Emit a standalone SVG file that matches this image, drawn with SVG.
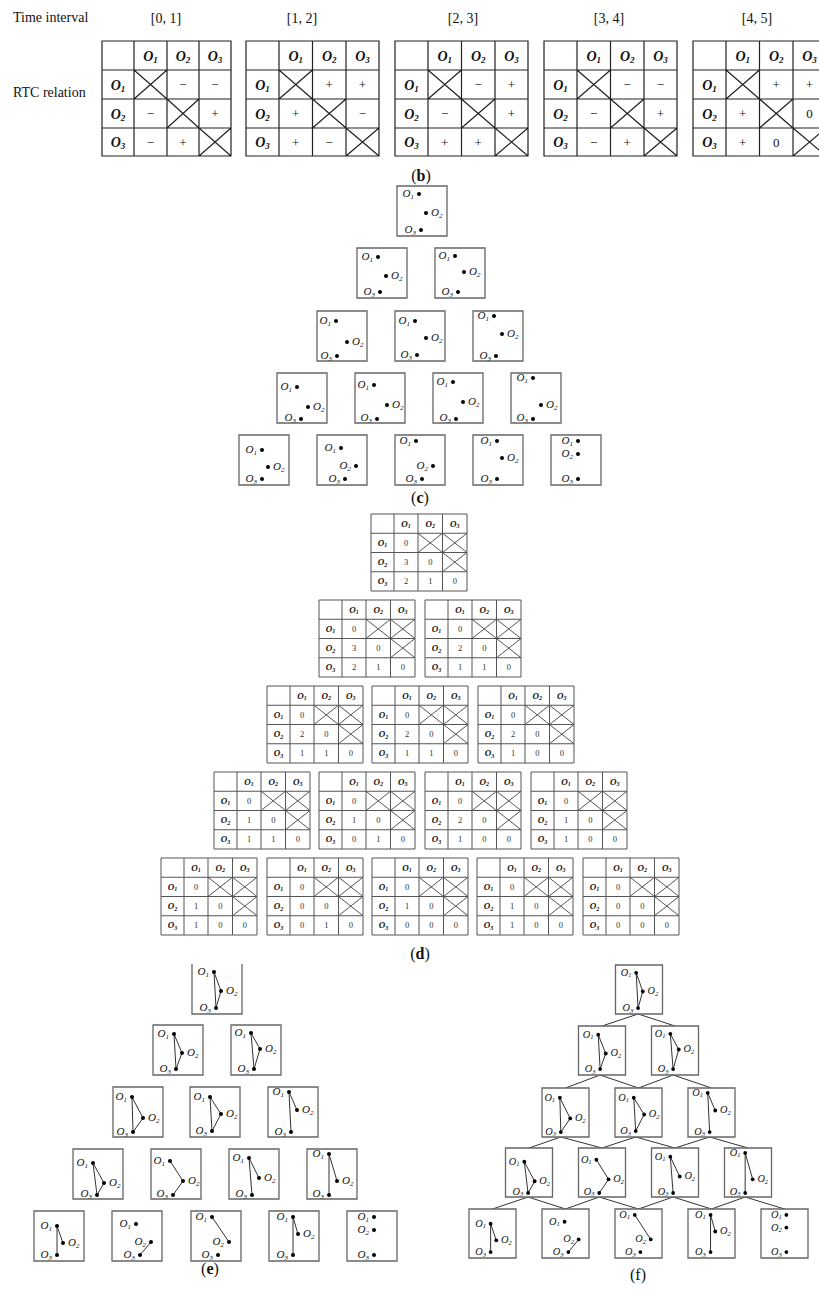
<svg xmlns="http://www.w3.org/2000/svg" xmlns:xlink="http://www.w3.org/1999/xlink" width="819" height="1289" viewBox="0 0 819 1289">
<style>
text{font-family:"Liberation Serif","Times New Roman",serif;fill:#111}
.t{font-size:14px}
.bh{font-size:14px;font-weight:bold;font-style:italic;text-anchor:middle}
.bs{font-size:9px}
.sg{font-size:13px;text-anchor:middle}
.tg{fill:none;stroke:#222;stroke-width:1.2}
.dgs{fill:none;stroke:#555;stroke-width:1}
.dh{font-size:9px;font-weight:bold;font-style:italic;text-anchor:middle}
.ds{font-size:6px}
.dn{font-size:8.5px;text-anchor:middle;fill:#333}
.bx{fill:#fff;stroke:#666;stroke-width:1.3;vector-effect:non-scaling-stroke}
.ln{fill:none;stroke:#333;stroke-width:1;vector-effect:non-scaling-stroke}
.ol{font-size:11px;font-style:italic}
.e{text-anchor:end}
.s{font-size:7px}
.cap{font-size:16px;text-anchor:middle}
.cn{fill:none;stroke:#333;stroke-width:1}
</style>
<defs>
<path id="tg1" class="tg" d="M0,0H129V115H0Z M32,0V115 M65,0V115 M97,0V115 M0,29H129 M0,58H129 M0,87H129 M32,29L65,58 M32,58L65,29 M65,58L97,87 M65,87L97,58 M97,87L129,115 M97,115L129,87"/>
<path id="tgs" class="tg" d="M0,0H133V115H0Z M33,0V115 M66.5,0V115 M100,0V115 M0,29H133 M0,58H133 M0,87H133 M33,29L66.5,58 M33,58L66.5,29 M66.5,58L100,87 M66.5,87L100,58 M100,87L133,115 M100,115L133,87"/>
<path id="dgr" class="dgs" d="M0,0H96V77H0Z M23,0V77 M47,0V77 M71.5,0V77 M0,19.25H96 M0,38.5H96 M0,57.75H96 M47,19.25L71.5,38.5 M47,38.5L71.5,19.25 M71.5,19.25L96,38.5 M71.5,38.5L96,19.25 M71.5,38.5L96,57.75 M71.5,57.75L96,38.5"/>
</defs>
<rect width="819" height="1289" fill="#fff"/>

<!-- (b) -->
<g id="b-labels">
<text class="t" x="13" y="22">Time interval</text>
<text class="t" x="13" y="97">RTC relation</text>
<text class="t" x="166" y="23" text-anchor="middle">[0, 1]</text>
<text class="t" x="302" y="23" text-anchor="middle">[1, 2]</text>
<text class="t" x="463" y="23" text-anchor="middle">[2, 3]</text>
<text class="t" x="609" y="23" text-anchor="middle">[3, 4]</text>
<text class="t" x="757" y="23" text-anchor="middle">[4, 5]</text>
</g>
<g id="tb1" transform="translate(102,41)"><use href="#tg1"/>
<text class="bh" x="48.5" y="19.5">O<tspan class="bs" dy="2">1</tspan></text><text class="bh" x="81" y="19.5">O<tspan class="bs" dy="2">2</tspan></text><text class="bh" x="113" y="19.5">O<tspan class="bs" dy="2">3</tspan></text>
<text class="bh" x="16" y="48.5">O<tspan class="bs" dy="2">1</tspan></text><text class="bh" x="16" y="77.5">O<tspan class="bs" dy="2">2</tspan></text><text class="bh" x="16" y="106">O<tspan class="bs" dy="2">3</tspan></text>
<text class="sg" x="81" y="48">−</text><text class="sg" x="113" y="48">−</text>
<text class="sg" x="48.5" y="77">−</text><text class="sg" x="113" y="77">+</text>
<text class="sg" x="48.5" y="105.5">−</text><text class="sg" x="81" y="105.5">+</text>
</g>
<g id="tb2" transform="translate(246,41)"><use href="#tgs"/>
<text class="bh" x="49.75" y="19.5">O<tspan class="bs" dy="2">1</tspan></text><text class="bh" x="83.25" y="19.5">O<tspan class="bs" dy="2">2</tspan></text><text class="bh" x="116.5" y="19.5">O<tspan class="bs" dy="2">3</tspan></text>
<text class="bh" x="16.5" y="48.5">O<tspan class="bs" dy="2">1</tspan></text><text class="bh" x="16.5" y="77.5">O<tspan class="bs" dy="2">2</tspan></text><text class="bh" x="16.5" y="106">O<tspan class="bs" dy="2">3</tspan></text>
<text class="sg" x="83.25" y="48">+</text><text class="sg" x="116.5" y="48">+</text>
<text class="sg" x="49.75" y="77">+</text><text class="sg" x="116.5" y="77">−</text>
<text class="sg" x="49.75" y="105.5">+</text><text class="sg" x="83.25" y="105.5">−</text>
</g>
<g id="tb3" transform="translate(395,41)"><use href="#tgs"/>
<text class="bh" x="49.75" y="19.5">O<tspan class="bs" dy="2">1</tspan></text><text class="bh" x="83.25" y="19.5">O<tspan class="bs" dy="2">2</tspan></text><text class="bh" x="116.5" y="19.5">O<tspan class="bs" dy="2">3</tspan></text>
<text class="bh" x="16.5" y="48.5">O<tspan class="bs" dy="2">1</tspan></text><text class="bh" x="16.5" y="77.5">O<tspan class="bs" dy="2">2</tspan></text><text class="bh" x="16.5" y="106">O<tspan class="bs" dy="2">3</tspan></text>
<text class="sg" x="83.25" y="48">−</text><text class="sg" x="116.5" y="48">+</text>
<text class="sg" x="49.75" y="77">−</text><text class="sg" x="116.5" y="77">+</text>
<text class="sg" x="49.75" y="105.5">+</text><text class="sg" x="83.25" y="105.5">+</text>
</g>
<g id="tb4" transform="translate(544,41)"><use href="#tgs"/>
<text class="bh" x="49.75" y="19.5">O<tspan class="bs" dy="2">1</tspan></text><text class="bh" x="83.25" y="19.5">O<tspan class="bs" dy="2">2</tspan></text><text class="bh" x="116.5" y="19.5">O<tspan class="bs" dy="2">3</tspan></text>
<text class="bh" x="16.5" y="48.5">O<tspan class="bs" dy="2">1</tspan></text><text class="bh" x="16.5" y="77.5">O<tspan class="bs" dy="2">2</tspan></text><text class="bh" x="16.5" y="106">O<tspan class="bs" dy="2">3</tspan></text>
<text class="sg" x="83.25" y="48">−</text><text class="sg" x="116.5" y="48">−</text>
<text class="sg" x="49.75" y="77">−</text><text class="sg" x="116.5" y="77">+</text>
<text class="sg" x="49.75" y="105.5">−</text><text class="sg" x="83.25" y="105.5">+</text>
</g>
<g id="tb5" transform="translate(693,41)"><use href="#tgs"/>
<text class="bh" x="49.75" y="19.5">O<tspan class="bs" dy="2">1</tspan></text><text class="bh" x="83.25" y="19.5">O<tspan class="bs" dy="2">2</tspan></text><text class="bh" x="116.5" y="19.5">O<tspan class="bs" dy="2">3</tspan></text>
<text class="bh" x="16.5" y="48.5">O<tspan class="bs" dy="2">1</tspan></text><text class="bh" x="16.5" y="77.5">O<tspan class="bs" dy="2">2</tspan></text><text class="bh" x="16.5" y="106">O<tspan class="bs" dy="2">3</tspan></text>
<text class="sg" x="83.25" y="48">+</text><text class="sg" x="116.5" y="48">+</text>
<text class="sg" x="49.75" y="77">+</text><text class="sg" x="116.5" y="77" fill="#444">0</text>
<text class="sg" x="49.75" y="105.5">+</text><text class="sg" x="83.25" y="105.5" fill="#444">0</text>
</g>
<text class="cap" x="421" y="181">(<tspan font-weight="bold">b</tspan>)</text>

<!-- (c) -->
<g id="c1" transform="translate(397,186)"><rect class="bx" width="50" height="50"/><circle cx="22" cy="8" r="2"/><circle cx="29" cy="27" r="2"/><circle cx="24" cy="44" r="2"/><text class="ol e" x="17" y="11">O<tspan class="s" dy="1.5">1</tspan></text><text class="ol" x="34" y="30">O<tspan class="s" dy="1.5">2</tspan></text><text class="ol e" x="19" y="47">O<tspan class="s" dy="1.5">3</tspan></text></g>
<g id="c2" transform="translate(357,248)"><rect class="bx" width="50" height="50"/><circle cx="21" cy="9" r="2"/><circle cx="29" cy="28" r="2"/><circle cx="23" cy="44" r="2"/><text class="ol e" x="16" y="12">O<tspan class="s" dy="1.5">1</tspan></text><text class="ol" x="34" y="31">O<tspan class="s" dy="1.5">2</tspan></text><text class="ol e" x="18" y="47">O<tspan class="s" dy="1.5">3</tspan></text></g>
<g id="c3" transform="translate(435,248)"><rect class="bx" width="50" height="50"/><circle cx="20" cy="8" r="2"/><circle cx="29" cy="24" r="2"/><circle cx="23" cy="44" r="2"/><text class="ol e" x="15" y="11">O<tspan class="s" dy="1.5">1</tspan></text><text class="ol" x="34" y="27">O<tspan class="s" dy="1.5">2</tspan></text><text class="ol e" x="18" y="47">O<tspan class="s" dy="1.5">3</tspan></text></g>
<g id="c4" transform="translate(317,311)"><rect class="bx" width="50" height="50"/><circle cx="19" cy="10" r="2"/><circle cx="30" cy="31" r="2"/><circle cx="20" cy="45" r="2"/><text class="ol e" x="14" y="13">O<tspan class="s" dy="1.5">1</tspan></text><text class="ol" x="35" y="34">O<tspan class="s" dy="1.5">2</tspan></text><text class="ol e" x="15" y="48">O<tspan class="s" dy="1.5">3</tspan></text></g>
<g id="c5" transform="translate(395,311)"><rect class="bx" width="50" height="50"/><circle cx="20" cy="10" r="2"/><circle cx="31" cy="27" r="2"/><circle cx="22" cy="44" r="2"/><text class="ol e" x="15" y="13">O<tspan class="s" dy="1.5">1</tspan></text><text class="ol" x="36" y="30">O<tspan class="s" dy="1.5">2</tspan></text><text class="ol e" x="17" y="47">O<tspan class="s" dy="1.5">3</tspan></text></g>
<g id="c6" transform="translate(473,311)"><rect class="bx" width="50" height="50"/><circle cx="21" cy="5" r="2"/><circle cx="29" cy="23" r="2"/><circle cx="23" cy="45" r="2"/><text class="ol e" x="16" y="8">O<tspan class="s" dy="1.5">1</tspan></text><text class="ol" x="34" y="26">O<tspan class="s" dy="1.5">2</tspan></text><text class="ol e" x="18" y="48">O<tspan class="s" dy="1.5">3</tspan></text></g>
<g id="c7" transform="translate(277,373)"><rect class="bx" width="50" height="50"/><circle cx="20" cy="14" r="2"/><circle cx="31" cy="34" r="2"/><circle cx="24" cy="46" r="2"/><text class="ol e" x="15" y="17">O<tspan class="s" dy="1.5">1</tspan></text><text class="ol" x="36" y="37">O<tspan class="s" dy="1.5">2</tspan></text><text class="ol e" x="19" y="48">O<tspan class="s" dy="1.5">3</tspan></text></g>
<g id="c8" transform="translate(355,373)"><rect class="bx" width="50" height="50"/><circle cx="19" cy="12" r="2"/><circle cx="32" cy="32" r="2"/><circle cx="22" cy="46" r="2"/><text class="ol e" x="14" y="15">O<tspan class="s" dy="1.5">1</tspan></text><text class="ol" x="37" y="35">O<tspan class="s" dy="1.5">2</tspan></text><text class="ol e" x="17" y="48">O<tspan class="s" dy="1.5">3</tspan></text></g>
<g id="c9" transform="translate(433,373)"><rect class="bx" width="50" height="50"/><circle cx="20" cy="9" r="2"/><circle cx="30" cy="29" r="2"/><circle cx="23" cy="46" r="2"/><text class="ol e" x="15" y="12">O<tspan class="s" dy="1.5">1</tspan></text><text class="ol" x="35" y="32">O<tspan class="s" dy="1.5">2</tspan></text><text class="ol e" x="18" y="48">O<tspan class="s" dy="1.5">3</tspan></text></g>
<g id="c10" transform="translate(511,373)"><rect class="bx" width="50" height="50"/><circle cx="22" cy="5" r="2"/><circle cx="30" cy="32" r="2"/><circle cx="22" cy="46" r="2"/><text class="ol e" x="17" y="8">O<tspan class="s" dy="1.5">1</tspan></text><text class="ol" x="35" y="35">O<tspan class="s" dy="1.5">2</tspan></text><text class="ol e" x="17" y="48">O<tspan class="s" dy="1.5">3</tspan></text></g>
<g id="c11" transform="translate(239,435)"><rect class="bx" width="50" height="50"/><circle cx="23" cy="15" r="2"/><circle cx="29" cy="32" r="2"/><circle cx="23" cy="44" r="2"/><text class="ol e" x="18" y="18">O<tspan class="s" dy="1.5">1</tspan></text><text class="ol" x="34" y="35">O<tspan class="s" dy="1.5">2</tspan></text><text class="ol e" x="18" y="47">O<tspan class="s" dy="1.5">3</tspan></text></g>
<g id="c12" transform="translate(317,435)"><rect class="bx" width="50" height="50"/><circle cx="24" cy="13" r="2"/><circle cx="39" cy="31" r="2"/><circle cx="28" cy="44" r="2"/><text class="ol e" x="19" y="16">O<tspan class="s" dy="1.5">1</tspan></text><text class="ol e" x="34" y="34">O<tspan class="s" dy="1.5">2</tspan></text><text class="ol e" x="23" y="47">O<tspan class="s" dy="1.5">3</tspan></text></g>
<g id="c13" transform="translate(395,435)"><rect class="bx" width="50" height="50"/><circle cx="21" cy="6" r="2"/><circle cx="38" cy="31" r="2"/><circle cx="27" cy="44" r="2"/><text class="ol e" x="16" y="9">O<tspan class="s" dy="1.5">1</tspan></text><text class="ol e" x="33" y="34">O<tspan class="s" dy="1.5">2</tspan></text><text class="ol e" x="22" y="47">O<tspan class="s" dy="1.5">3</tspan></text></g>
<g id="c14" transform="translate(473,435)"><rect class="bx" width="50" height="50"/><circle cx="24" cy="6" r="2"/><circle cx="29" cy="23" r="2"/><circle cx="24" cy="44" r="2"/><text class="ol e" x="19" y="9">O<tspan class="s" dy="1.5">1</tspan></text><text class="ol" x="34" y="26">O<tspan class="s" dy="1.5">2</tspan></text><text class="ol e" x="19" y="47">O<tspan class="s" dy="1.5">3</tspan></text></g>
<g id="c15" transform="translate(551,435)"><rect class="bx" width="50" height="50"/><circle cx="27" cy="6" r="2"/><circle cx="27" cy="19" r="2"/><circle cx="27" cy="44" r="2"/><text class="ol e" x="22" y="9">O<tspan class="s" dy="1.5">1</tspan></text><text class="ol e" x="22" y="22">O<tspan class="s" dy="1.5">2</tspan></text><text class="ol e" x="22" y="47">O<tspan class="s" dy="1.5">3</tspan></text></g>
<text class="cap" x="420" y="503">(<tspan font-weight="bold">c</tspan>)</text>

<!-- (d) -->
<g id="d1" transform="translate(371,514)"><use href="#dgr"/>
<text class="dh" x="35" y="12.6">O<tspan class="ds" dy="1.5">1</tspan></text><text class="dh" x="59.25" y="12.6">O<tspan class="ds" dy="1.5">2</tspan></text><text class="dh" x="83.75" y="12.6">O<tspan class="ds" dy="1.5">3</tspan></text>
<text class="dh" x="11.5" y="31.9">O<tspan class="ds" dy="1.5">1</tspan></text><text class="dh" x="11.5" y="51.1">O<tspan class="ds" dy="1.5">2</tspan></text><text class="dh" x="11.5" y="70.4">O<tspan class="ds" dy="1.5">3</tspan></text>
<text class="dn" x="35" y="31.9">0</text><text class="dn" x="35" y="51.1">3</text><text class="dn" x="59.25" y="51.1">0</text><text class="dn" x="35" y="70.4">2</text><text class="dn" x="59.25" y="70.4">1</text><text class="dn" x="83.75" y="70.4">0</text></g>
<g id="d2" transform="translate(319,600)"><use href="#dgr"/>
<text class="dh" x="35" y="12.6">O<tspan class="ds" dy="1.5">1</tspan></text><text class="dh" x="59.25" y="12.6">O<tspan class="ds" dy="1.5">2</tspan></text><text class="dh" x="83.75" y="12.6">O<tspan class="ds" dy="1.5">3</tspan></text>
<text class="dh" x="11.5" y="31.9">O<tspan class="ds" dy="1.5">1</tspan></text><text class="dh" x="11.5" y="51.1">O<tspan class="ds" dy="1.5">2</tspan></text><text class="dh" x="11.5" y="70.4">O<tspan class="ds" dy="1.5">3</tspan></text>
<text class="dn" x="35" y="31.9">0</text><text class="dn" x="35" y="51.1">3</text><text class="dn" x="59.25" y="51.1">0</text><text class="dn" x="35" y="70.4">2</text><text class="dn" x="59.25" y="70.4">1</text><text class="dn" x="83.75" y="70.4">0</text></g>
<g id="d3" transform="translate(425,600)"><use href="#dgr"/>
<text class="dh" x="35" y="12.6">O<tspan class="ds" dy="1.5">1</tspan></text><text class="dh" x="59.25" y="12.6">O<tspan class="ds" dy="1.5">2</tspan></text><text class="dh" x="83.75" y="12.6">O<tspan class="ds" dy="1.5">3</tspan></text>
<text class="dh" x="11.5" y="31.9">O<tspan class="ds" dy="1.5">1</tspan></text><text class="dh" x="11.5" y="51.1">O<tspan class="ds" dy="1.5">2</tspan></text><text class="dh" x="11.5" y="70.4">O<tspan class="ds" dy="1.5">3</tspan></text>
<text class="dn" x="35" y="31.9">0</text><text class="dn" x="35" y="51.1">2</text><text class="dn" x="59.25" y="51.1">0</text><text class="dn" x="35" y="70.4">1</text><text class="dn" x="59.25" y="70.4">1</text><text class="dn" x="83.75" y="70.4">0</text></g>
<g id="d4" transform="translate(267,686)"><use href="#dgr"/>
<text class="dh" x="35" y="12.6">O<tspan class="ds" dy="1.5">1</tspan></text><text class="dh" x="59.25" y="12.6">O<tspan class="ds" dy="1.5">2</tspan></text><text class="dh" x="83.75" y="12.6">O<tspan class="ds" dy="1.5">3</tspan></text>
<text class="dh" x="11.5" y="31.9">O<tspan class="ds" dy="1.5">1</tspan></text><text class="dh" x="11.5" y="51.1">O<tspan class="ds" dy="1.5">2</tspan></text><text class="dh" x="11.5" y="70.4">O<tspan class="ds" dy="1.5">3</tspan></text>
<text class="dn" x="35" y="31.9">0</text><text class="dn" x="35" y="51.1">2</text><text class="dn" x="59.25" y="51.1">0</text><text class="dn" x="35" y="70.4">1</text><text class="dn" x="59.25" y="70.4">1</text><text class="dn" x="83.75" y="70.4">0</text></g>
<g id="d5" transform="translate(372,686)"><use href="#dgr"/>
<text class="dh" x="35" y="12.6">O<tspan class="ds" dy="1.5">1</tspan></text><text class="dh" x="59.25" y="12.6">O<tspan class="ds" dy="1.5">2</tspan></text><text class="dh" x="83.75" y="12.6">O<tspan class="ds" dy="1.5">3</tspan></text>
<text class="dh" x="11.5" y="31.9">O<tspan class="ds" dy="1.5">1</tspan></text><text class="dh" x="11.5" y="51.1">O<tspan class="ds" dy="1.5">2</tspan></text><text class="dh" x="11.5" y="70.4">O<tspan class="ds" dy="1.5">3</tspan></text>
<text class="dn" x="35" y="31.9">0</text><text class="dn" x="35" y="51.1">2</text><text class="dn" x="59.25" y="51.1">0</text><text class="dn" x="35" y="70.4">1</text><text class="dn" x="59.25" y="70.4">1</text><text class="dn" x="83.75" y="70.4">0</text></g>
<g id="d6" transform="translate(478,686)"><use href="#dgr"/>
<text class="dh" x="35" y="12.6">O<tspan class="ds" dy="1.5">1</tspan></text><text class="dh" x="59.25" y="12.6">O<tspan class="ds" dy="1.5">2</tspan></text><text class="dh" x="83.75" y="12.6">O<tspan class="ds" dy="1.5">3</tspan></text>
<text class="dh" x="11.5" y="31.9">O<tspan class="ds" dy="1.5">1</tspan></text><text class="dh" x="11.5" y="51.1">O<tspan class="ds" dy="1.5">2</tspan></text><text class="dh" x="11.5" y="70.4">O<tspan class="ds" dy="1.5">3</tspan></text>
<text class="dn" x="35" y="31.9">0</text><text class="dn" x="35" y="51.1">2</text><text class="dn" x="59.25" y="51.1">0</text><text class="dn" x="35" y="70.4">1</text><text class="dn" x="59.25" y="70.4">0</text><text class="dn" x="83.75" y="70.4">0</text></g>
<g id="d7" transform="translate(214,772)"><use href="#dgr"/>
<text class="dh" x="35" y="12.6">O<tspan class="ds" dy="1.5">1</tspan></text><text class="dh" x="59.25" y="12.6">O<tspan class="ds" dy="1.5">2</tspan></text><text class="dh" x="83.75" y="12.6">O<tspan class="ds" dy="1.5">3</tspan></text>
<text class="dh" x="11.5" y="31.9">O<tspan class="ds" dy="1.5">1</tspan></text><text class="dh" x="11.5" y="51.1">O<tspan class="ds" dy="1.5">2</tspan></text><text class="dh" x="11.5" y="70.4">O<tspan class="ds" dy="1.5">3</tspan></text>
<text class="dn" x="35" y="31.9">0</text><text class="dn" x="35" y="51.1">1</text><text class="dn" x="59.25" y="51.1">0</text><text class="dn" x="35" y="70.4">1</text><text class="dn" x="59.25" y="70.4">1</text><text class="dn" x="83.75" y="70.4">0</text></g>
<g id="d8" transform="translate(319,772)"><use href="#dgr"/>
<text class="dh" x="35" y="12.6">O<tspan class="ds" dy="1.5">1</tspan></text><text class="dh" x="59.25" y="12.6">O<tspan class="ds" dy="1.5">2</tspan></text><text class="dh" x="83.75" y="12.6">O<tspan class="ds" dy="1.5">3</tspan></text>
<text class="dh" x="11.5" y="31.9">O<tspan class="ds" dy="1.5">1</tspan></text><text class="dh" x="11.5" y="51.1">O<tspan class="ds" dy="1.5">2</tspan></text><text class="dh" x="11.5" y="70.4">O<tspan class="ds" dy="1.5">3</tspan></text>
<text class="dn" x="35" y="31.9">0</text><text class="dn" x="35" y="51.1">1</text><text class="dn" x="59.25" y="51.1">0</text><text class="dn" x="35" y="70.4">0</text><text class="dn" x="59.25" y="70.4">1</text><text class="dn" x="83.75" y="70.4">0</text></g>
<g id="d9" transform="translate(425,772)"><use href="#dgr"/>
<text class="dh" x="35" y="12.6">O<tspan class="ds" dy="1.5">1</tspan></text><text class="dh" x="59.25" y="12.6">O<tspan class="ds" dy="1.5">2</tspan></text><text class="dh" x="83.75" y="12.6">O<tspan class="ds" dy="1.5">3</tspan></text>
<text class="dh" x="11.5" y="31.9">O<tspan class="ds" dy="1.5">1</tspan></text><text class="dh" x="11.5" y="51.1">O<tspan class="ds" dy="1.5">2</tspan></text><text class="dh" x="11.5" y="70.4">O<tspan class="ds" dy="1.5">3</tspan></text>
<text class="dn" x="35" y="31.9">0</text><text class="dn" x="35" y="51.1">2</text><text class="dn" x="59.25" y="51.1">0</text><text class="dn" x="35" y="70.4">1</text><text class="dn" x="59.25" y="70.4">0</text><text class="dn" x="83.75" y="70.4">0</text></g>
<g id="d10" transform="translate(531,772)"><use href="#dgr"/>
<text class="dh" x="35" y="12.6">O<tspan class="ds" dy="1.5">1</tspan></text><text class="dh" x="59.25" y="12.6">O<tspan class="ds" dy="1.5">2</tspan></text><text class="dh" x="83.75" y="12.6">O<tspan class="ds" dy="1.5">3</tspan></text>
<text class="dh" x="11.5" y="31.9">O<tspan class="ds" dy="1.5">1</tspan></text><text class="dh" x="11.5" y="51.1">O<tspan class="ds" dy="1.5">2</tspan></text><text class="dh" x="11.5" y="70.4">O<tspan class="ds" dy="1.5">3</tspan></text>
<text class="dn" x="35" y="31.9">0</text><text class="dn" x="35" y="51.1">1</text><text class="dn" x="59.25" y="51.1">0</text><text class="dn" x="35" y="70.4">1</text><text class="dn" x="59.25" y="70.4">0</text><text class="dn" x="83.75" y="70.4">0</text></g>
<g id="d11" transform="translate(161,858)"><use href="#dgr"/>
<text class="dh" x="35" y="12.6">O<tspan class="ds" dy="1.5">1</tspan></text><text class="dh" x="59.25" y="12.6">O<tspan class="ds" dy="1.5">2</tspan></text><text class="dh" x="83.75" y="12.6">O<tspan class="ds" dy="1.5">3</tspan></text>
<text class="dh" x="11.5" y="31.9">O<tspan class="ds" dy="1.5">1</tspan></text><text class="dh" x="11.5" y="51.1">O<tspan class="ds" dy="1.5">2</tspan></text><text class="dh" x="11.5" y="70.4">O<tspan class="ds" dy="1.5">3</tspan></text>
<text class="dn" x="35" y="31.9">0</text><text class="dn" x="35" y="51.1">1</text><text class="dn" x="59.25" y="51.1">0</text><text class="dn" x="35" y="70.4">1</text><text class="dn" x="59.25" y="70.4">0</text><text class="dn" x="83.75" y="70.4">0</text></g>
<g id="d12" transform="translate(267,858)"><use href="#dgr"/>
<text class="dh" x="35" y="12.6">O<tspan class="ds" dy="1.5">1</tspan></text><text class="dh" x="59.25" y="12.6">O<tspan class="ds" dy="1.5">2</tspan></text><text class="dh" x="83.75" y="12.6">O<tspan class="ds" dy="1.5">3</tspan></text>
<text class="dh" x="11.5" y="31.9">O<tspan class="ds" dy="1.5">1</tspan></text><text class="dh" x="11.5" y="51.1">O<tspan class="ds" dy="1.5">2</tspan></text><text class="dh" x="11.5" y="70.4">O<tspan class="ds" dy="1.5">3</tspan></text>
<text class="dn" x="35" y="31.9">0</text><text class="dn" x="35" y="51.1">0</text><text class="dn" x="59.25" y="51.1">0</text><text class="dn" x="35" y="70.4">0</text><text class="dn" x="59.25" y="70.4">1</text><text class="dn" x="83.75" y="70.4">0</text></g>
<g id="d13" transform="translate(372,858)"><use href="#dgr"/>
<text class="dh" x="35" y="12.6">O<tspan class="ds" dy="1.5">1</tspan></text><text class="dh" x="59.25" y="12.6">O<tspan class="ds" dy="1.5">2</tspan></text><text class="dh" x="83.75" y="12.6">O<tspan class="ds" dy="1.5">3</tspan></text>
<text class="dh" x="11.5" y="31.9">O<tspan class="ds" dy="1.5">1</tspan></text><text class="dh" x="11.5" y="51.1">O<tspan class="ds" dy="1.5">2</tspan></text><text class="dh" x="11.5" y="70.4">O<tspan class="ds" dy="1.5">3</tspan></text>
<text class="dn" x="35" y="31.9">0</text><text class="dn" x="35" y="51.1">1</text><text class="dn" x="59.25" y="51.1">0</text><text class="dn" x="35" y="70.4">0</text><text class="dn" x="59.25" y="70.4">0</text><text class="dn" x="83.75" y="70.4">0</text></g>
<g id="d14" transform="translate(477,858)"><use href="#dgr"/>
<text class="dh" x="35" y="12.6">O<tspan class="ds" dy="1.5">1</tspan></text><text class="dh" x="59.25" y="12.6">O<tspan class="ds" dy="1.5">2</tspan></text><text class="dh" x="83.75" y="12.6">O<tspan class="ds" dy="1.5">3</tspan></text>
<text class="dh" x="11.5" y="31.9">O<tspan class="ds" dy="1.5">1</tspan></text><text class="dh" x="11.5" y="51.1">O<tspan class="ds" dy="1.5">2</tspan></text><text class="dh" x="11.5" y="70.4">O<tspan class="ds" dy="1.5">3</tspan></text>
<text class="dn" x="35" y="31.9">0</text><text class="dn" x="35" y="51.1">1</text><text class="dn" x="59.25" y="51.1">0</text><text class="dn" x="35" y="70.4">1</text><text class="dn" x="59.25" y="70.4">0</text><text class="dn" x="83.75" y="70.4">0</text></g>
<g id="d15" transform="translate(583,858)"><use href="#dgr"/>
<text class="dh" x="35" y="12.6">O<tspan class="ds" dy="1.5">1</tspan></text><text class="dh" x="59.25" y="12.6">O<tspan class="ds" dy="1.5">2</tspan></text><text class="dh" x="83.75" y="12.6">O<tspan class="ds" dy="1.5">3</tspan></text>
<text class="dh" x="11.5" y="31.9">O<tspan class="ds" dy="1.5">1</tspan></text><text class="dh" x="11.5" y="51.1">O<tspan class="ds" dy="1.5">2</tspan></text><text class="dh" x="11.5" y="70.4">O<tspan class="ds" dy="1.5">3</tspan></text>
<text class="dn" x="35" y="31.9">0</text><text class="dn" x="35" y="51.1">0</text><text class="dn" x="59.25" y="51.1">0</text><text class="dn" x="35" y="70.4">0</text><text class="dn" x="59.25" y="70.4">0</text><text class="dn" x="83.75" y="70.4">0</text></g>
<text class="cap" x="420" y="959">(<tspan font-weight="bold">d</tspan>)</text>

<!-- (e) -->
<g id="e1" transform="translate(192,964)"><path class="bx" d="M0,0V50H50V0"/><polygon class="ln" points="22,8 29,27 24,44"/><circle cx="22" cy="8" r="2"/><circle cx="29" cy="27" r="2"/><circle cx="24" cy="44" r="2"/><text class="ol e" x="17" y="11">O<tspan class="s" dy="1.5">1</tspan></text><text class="ol" x="34" y="30">O<tspan class="s" dy="1.5">2</tspan></text><text class="ol e" x="19" y="47">O<tspan class="s" dy="1.5">3</tspan></text></g>
<g id="e2" transform="translate(153,1025)"><rect class="bx" width="50" height="50"/><polygon class="ln" points="21,9 29,28 23,44"/><circle cx="21" cy="9" r="2"/><circle cx="29" cy="28" r="2"/><circle cx="23" cy="44" r="2"/><text class="ol e" x="16" y="12">O<tspan class="s" dy="1.5">1</tspan></text><text class="ol" x="34" y="31">O<tspan class="s" dy="1.5">2</tspan></text><text class="ol e" x="18" y="47">O<tspan class="s" dy="1.5">3</tspan></text></g>
<g id="e3" transform="translate(231,1025)"><rect class="bx" width="50" height="50"/><polygon class="ln" points="20,8 29,24 23,44"/><circle cx="20" cy="8" r="2"/><circle cx="29" cy="24" r="2"/><circle cx="23" cy="44" r="2"/><text class="ol e" x="15" y="11">O<tspan class="s" dy="1.5">1</tspan></text><text class="ol" x="34" y="27">O<tspan class="s" dy="1.5">2</tspan></text><text class="ol e" x="18" y="47">O<tspan class="s" dy="1.5">3</tspan></text></g>
<g id="e4" transform="translate(113,1087)"><rect class="bx" width="50" height="50"/><polygon class="ln" points="19,10 30,31 20,45"/><circle cx="19" cy="10" r="2"/><circle cx="30" cy="31" r="2"/><circle cx="20" cy="45" r="2"/><text class="ol e" x="14" y="13">O<tspan class="s" dy="1.5">1</tspan></text><text class="ol" x="35" y="34">O<tspan class="s" dy="1.5">2</tspan></text><text class="ol e" x="15" y="48">O<tspan class="s" dy="1.5">3</tspan></text></g>
<g id="e5" transform="translate(190,1087)"><rect class="bx" width="50" height="50"/><polygon class="ln" points="20,10 31,27 22,44"/><circle cx="20" cy="10" r="2"/><circle cx="31" cy="27" r="2"/><circle cx="22" cy="44" r="2"/><text class="ol e" x="15" y="13">O<tspan class="s" dy="1.5">1</tspan></text><text class="ol" x="36" y="30">O<tspan class="s" dy="1.5">2</tspan></text><text class="ol e" x="17" y="47">O<tspan class="s" dy="1.5">3</tspan></text></g>
<g id="e6" transform="translate(268,1087)"><rect class="bx" width="50" height="50"/><polyline class="ln" points="29,23 21,5 23,45"/><circle cx="21" cy="5" r="2"/><circle cx="29" cy="23" r="2"/><circle cx="23" cy="45" r="2"/><text class="ol e" x="16" y="8">O<tspan class="s" dy="1.5">1</tspan></text><text class="ol" x="34" y="26">O<tspan class="s" dy="1.5">2</tspan></text><text class="ol e" x="18" y="48">O<tspan class="s" dy="1.5">3</tspan></text></g>
<g id="e7" transform="translate(73,1149)"><rect class="bx" width="50" height="50"/><polygon class="ln" points="20,14 31,34 24,46"/><circle cx="20" cy="14" r="2"/><circle cx="31" cy="34" r="2"/><circle cx="24" cy="46" r="2"/><text class="ol e" x="15" y="17">O<tspan class="s" dy="1.5">1</tspan></text><text class="ol" x="36" y="37">O<tspan class="s" dy="1.5">2</tspan></text><text class="ol e" x="19" y="48">O<tspan class="s" dy="1.5">3</tspan></text></g>
<g id="e8" transform="translate(151,1149)"><rect class="bx" width="50" height="50"/><polyline class="ln" points="19,12 32,32 22,46"/><circle cx="19" cy="12" r="2"/><circle cx="32" cy="32" r="2"/><circle cx="22" cy="46" r="2"/><text class="ol e" x="14" y="15">O<tspan class="s" dy="1.5">1</tspan></text><text class="ol" x="37" y="35">O<tspan class="s" dy="1.5">2</tspan></text><text class="ol e" x="17" y="48">O<tspan class="s" dy="1.5">3</tspan></text></g>
<g id="e9" transform="translate(229,1149)"><rect class="bx" width="50" height="50"/><polyline class="ln" points="30,29 20,9 23,46"/><circle cx="20" cy="9" r="2"/><circle cx="30" cy="29" r="2"/><circle cx="23" cy="46" r="2"/><text class="ol e" x="15" y="12">O<tspan class="s" dy="1.5">1</tspan></text><text class="ol" x="35" y="32">O<tspan class="s" dy="1.5">2</tspan></text><text class="ol e" x="18" y="48">O<tspan class="s" dy="1.5">3</tspan></text></g>
<g id="e10" transform="translate(307,1149)"><rect class="bx" width="50" height="50"/><polyline class="ln" points="30,32 22,5 22,46"/><circle cx="22" cy="5" r="2"/><circle cx="30" cy="32" r="2"/><circle cx="22" cy="46" r="2"/><text class="ol e" x="17" y="8">O<tspan class="s" dy="1.5">1</tspan></text><text class="ol" x="35" y="35">O<tspan class="s" dy="1.5">2</tspan></text><text class="ol e" x="17" y="48">O<tspan class="s" dy="1.5">3</tspan></text></g>
<g id="e11" transform="translate(34,1211)"><rect class="bx" width="50" height="50"/><polyline class="ln" points="29,32 23,15 23,44"/><circle cx="23" cy="15" r="2"/><circle cx="29" cy="32" r="2"/><circle cx="23" cy="44" r="2"/><text class="ol e" x="18" y="18">O<tspan class="s" dy="1.5">1</tspan></text><text class="ol" x="34" y="35">O<tspan class="s" dy="1.5">2</tspan></text><text class="ol e" x="18" y="47">O<tspan class="s" dy="1.5">3</tspan></text></g>
<g id="e12" transform="translate(112,1211)"><rect class="bx" width="50" height="50"/><polyline class="ln" points="39,31 28,44"/><circle cx="24" cy="13" r="2"/><circle cx="39" cy="31" r="2"/><circle cx="28" cy="44" r="2"/><text class="ol e" x="19" y="16">O<tspan class="s" dy="1.5">1</tspan></text><text class="ol e" x="34" y="34">O<tspan class="s" dy="1.5">2</tspan></text><text class="ol e" x="23" y="47">O<tspan class="s" dy="1.5">3</tspan></text></g>
<g id="e13" transform="translate(191,1211)"><rect class="bx" width="50" height="50"/><polyline class="ln" points="21,6 38,31"/><circle cx="21" cy="6" r="2"/><circle cx="38" cy="31" r="2"/><circle cx="27" cy="44" r="2"/><text class="ol e" x="16" y="9">O<tspan class="s" dy="1.5">1</tspan></text><text class="ol e" x="33" y="34">O<tspan class="s" dy="1.5">2</tspan></text><text class="ol e" x="22" y="47">O<tspan class="s" dy="1.5">3</tspan></text></g>
<g id="e14" transform="translate(269,1211)"><rect class="bx" width="50" height="50"/><polyline class="ln" points="29,23 24,6 24,44"/><circle cx="24" cy="6" r="2"/><circle cx="29" cy="23" r="2"/><circle cx="24" cy="44" r="2"/><text class="ol e" x="19" y="9">O<tspan class="s" dy="1.5">1</tspan></text><text class="ol" x="34" y="26">O<tspan class="s" dy="1.5">2</tspan></text><text class="ol e" x="19" y="47">O<tspan class="s" dy="1.5">3</tspan></text></g>
<g id="e15" transform="translate(347,1211)"><rect class="bx" width="50" height="50"/><circle cx="27" cy="6" r="2"/><circle cx="27" cy="19" r="2"/><circle cx="27" cy="44" r="2"/><text class="ol e" x="22" y="9">O<tspan class="s" dy="1.5">1</tspan></text><text class="ol e" x="22" y="22">O<tspan class="s" dy="1.5">2</tspan></text><text class="ol e" x="22" y="47">O<tspan class="s" dy="1.5">3</tspan></text></g>
<text class="cap" x="210" y="1274">(<tspan font-weight="bold">e</tspan>)</text>

<!-- (f) connectors -->
<g id="f-connectors" class="cn">
<path d="M638.1,1014L602,1026M638.1,1014L675,1026"/>
<path d="M600.1,1075L565.5,1088M600.1,1075L638.5,1088M673.1,1075L638.5,1088M673.1,1075L711.5,1088"/>
<path d="M560.8,1137L529,1148M560.8,1137L602,1148M635.7,1137L602,1148M635.7,1137L675,1148M709.6,1137L675,1148M709.6,1137L748,1148"/>
<path d="M528.1,1197L492.5,1209M528.1,1197L565.5,1209M599.2,1197L565.5,1209M599.2,1197L638.5,1209M673.1,1197L638.5,1209M673.1,1197L711.5,1209M745.2,1197L711.5,1209M745.2,1197L784.5,1209"/>
</g>

<!-- (f) -->
<g id="f1" transform="translate(615.5,965) scale(0.94,0.98)"><rect class="bx" width="50" height="50"/><polygon class="ln" points="22,8 29,27 24,44"/><circle cx="22" cy="8" r="2"/><circle cx="29" cy="27" r="2"/><circle cx="24" cy="44" r="2"/><text class="ol e" x="17" y="11">O<tspan class="s" dy="1.5">1</tspan></text><text class="ol" x="34" y="30">O<tspan class="s" dy="1.5">2</tspan></text><text class="ol e" x="19" y="47">O<tspan class="s" dy="1.5">3</tspan></text></g>
<g id="f2" transform="translate(578.5,1026) scale(0.94,0.98)"><rect class="bx" width="50" height="50"/><polygon class="ln" points="21,9 29,28 23,44"/><circle cx="21" cy="9" r="2"/><circle cx="29" cy="28" r="2"/><circle cx="23" cy="44" r="2"/><text class="ol e" x="16" y="12">O<tspan class="s" dy="1.5">1</tspan></text><text class="ol" x="34" y="31">O<tspan class="s" dy="1.5">2</tspan></text><text class="ol e" x="18" y="47">O<tspan class="s" dy="1.5">3</tspan></text></g>
<g id="f3" transform="translate(651.5,1026) scale(0.94,0.98)"><rect class="bx" width="50" height="50"/><polygon class="ln" points="20,8 29,24 23,44"/><circle cx="20" cy="8" r="2"/><circle cx="29" cy="24" r="2"/><circle cx="23" cy="44" r="2"/><text class="ol e" x="15" y="11">O<tspan class="s" dy="1.5">1</tspan></text><text class="ol" x="34" y="27">O<tspan class="s" dy="1.5">2</tspan></text><text class="ol e" x="18" y="47">O<tspan class="s" dy="1.5">3</tspan></text></g>
<g id="f4" transform="translate(542,1088) scale(0.94,0.98)"><rect class="bx" width="50" height="50"/><polygon class="ln" points="19,10 30,31 20,45"/><circle cx="19" cy="10" r="2"/><circle cx="30" cy="31" r="2"/><circle cx="20" cy="45" r="2"/><text class="ol e" x="14" y="13">O<tspan class="s" dy="1.5">1</tspan></text><text class="ol" x="35" y="34">O<tspan class="s" dy="1.5">2</tspan></text><text class="ol e" x="15" y="48">O<tspan class="s" dy="1.5">3</tspan></text></g>
<g id="f5" transform="translate(615,1088) scale(0.94,0.98)"><rect class="bx" width="50" height="50"/><polygon class="ln" points="20,10 31,27 22,44"/><circle cx="20" cy="10" r="2"/><circle cx="31" cy="27" r="2"/><circle cx="22" cy="44" r="2"/><text class="ol e" x="15" y="13">O<tspan class="s" dy="1.5">1</tspan></text><text class="ol" x="36" y="30">O<tspan class="s" dy="1.5">2</tspan></text><text class="ol e" x="17" y="47">O<tspan class="s" dy="1.5">3</tspan></text></g>
<g id="f6" transform="translate(688,1088) scale(0.94,0.98)"><rect class="bx" width="50" height="50"/><polyline class="ln" points="29,23 21,5 23,45"/><circle cx="21" cy="5" r="2"/><circle cx="29" cy="23" r="2"/><circle cx="23" cy="45" r="2"/><text class="ol e" x="16" y="8">O<tspan class="s" dy="1.5">1</tspan></text><text class="ol" x="34" y="26">O<tspan class="s" dy="1.5">2</tspan></text><text class="ol e" x="18" y="48">O<tspan class="s" dy="1.5">3</tspan></text></g>
<g id="f7" transform="translate(505.5,1148) scale(0.94,0.98)"><rect class="bx" width="50" height="50"/><polygon class="ln" points="20,14 31,34 24,46"/><circle cx="20" cy="14" r="2"/><circle cx="31" cy="34" r="2"/><circle cx="24" cy="46" r="2"/><text class="ol e" x="15" y="17">O<tspan class="s" dy="1.5">1</tspan></text><text class="ol" x="36" y="37">O<tspan class="s" dy="1.5">2</tspan></text><text class="ol e" x="19" y="48">O<tspan class="s" dy="1.5">3</tspan></text></g>
<g id="f8" transform="translate(578.5,1148) scale(0.94,0.98)"><rect class="bx" width="50" height="50"/><polyline class="ln" points="19,12 32,32 22,46"/><circle cx="19" cy="12" r="2"/><circle cx="32" cy="32" r="2"/><circle cx="22" cy="46" r="2"/><text class="ol e" x="14" y="15">O<tspan class="s" dy="1.5">1</tspan></text><text class="ol" x="37" y="35">O<tspan class="s" dy="1.5">2</tspan></text><text class="ol e" x="17" y="48">O<tspan class="s" dy="1.5">3</tspan></text></g>
<g id="f9" transform="translate(651.5,1148) scale(0.94,0.98)"><rect class="bx" width="50" height="50"/><polyline class="ln" points="30,29 20,9 23,46"/><circle cx="20" cy="9" r="2"/><circle cx="30" cy="29" r="2"/><circle cx="23" cy="46" r="2"/><text class="ol e" x="15" y="12">O<tspan class="s" dy="1.5">1</tspan></text><text class="ol" x="35" y="32">O<tspan class="s" dy="1.5">2</tspan></text><text class="ol e" x="18" y="48">O<tspan class="s" dy="1.5">3</tspan></text></g>
<g id="f10" transform="translate(724.5,1148) scale(0.94,0.98)"><rect class="bx" width="50" height="50"/><polyline class="ln" points="30,32 22,5 22,46"/><circle cx="22" cy="5" r="2"/><circle cx="30" cy="32" r="2"/><circle cx="22" cy="46" r="2"/><text class="ol e" x="17" y="8">O<tspan class="s" dy="1.5">1</tspan></text><text class="ol" x="35" y="35">O<tspan class="s" dy="1.5">2</tspan></text><text class="ol e" x="17" y="48">O<tspan class="s" dy="1.5">3</tspan></text></g>
<g id="f11" transform="translate(469,1209) scale(0.94,0.98)"><rect class="bx" width="50" height="50"/><polyline class="ln" points="29,32 23,15 23,44"/><circle cx="23" cy="15" r="2"/><circle cx="29" cy="32" r="2"/><circle cx="23" cy="44" r="2"/><text class="ol e" x="18" y="18">O<tspan class="s" dy="1.5">1</tspan></text><text class="ol" x="34" y="35">O<tspan class="s" dy="1.5">2</tspan></text><text class="ol e" x="18" y="47">O<tspan class="s" dy="1.5">3</tspan></text></g>
<g id="f12" transform="translate(542,1209) scale(0.94,0.98)"><rect class="bx" width="50" height="50"/><polyline class="ln" points="39,31 28,44"/><circle cx="24" cy="13" r="2"/><circle cx="39" cy="31" r="2"/><circle cx="28" cy="44" r="2"/><text class="ol e" x="19" y="16">O<tspan class="s" dy="1.5">1</tspan></text><text class="ol e" x="34" y="34">O<tspan class="s" dy="1.5">2</tspan></text><text class="ol e" x="23" y="47">O<tspan class="s" dy="1.5">3</tspan></text></g>
<g id="f13" transform="translate(615,1209) scale(0.94,0.98)"><rect class="bx" width="50" height="50"/><polyline class="ln" points="21,6 38,31"/><circle cx="21" cy="6" r="2"/><circle cx="38" cy="31" r="2"/><circle cx="27" cy="44" r="2"/><text class="ol e" x="16" y="9">O<tspan class="s" dy="1.5">1</tspan></text><text class="ol e" x="33" y="34">O<tspan class="s" dy="1.5">2</tspan></text><text class="ol e" x="22" y="47">O<tspan class="s" dy="1.5">3</tspan></text></g>
<g id="f14" transform="translate(688,1209) scale(0.94,0.98)"><rect class="bx" width="50" height="50"/><polyline class="ln" points="29,23 24,6 24,44"/><circle cx="24" cy="6" r="2"/><circle cx="29" cy="23" r="2"/><circle cx="24" cy="44" r="2"/><text class="ol e" x="19" y="9">O<tspan class="s" dy="1.5">1</tspan></text><text class="ol" x="34" y="26">O<tspan class="s" dy="1.5">2</tspan></text><text class="ol e" x="19" y="47">O<tspan class="s" dy="1.5">3</tspan></text></g>
<g id="f15" transform="translate(761,1209) scale(0.94,0.98)"><rect class="bx" width="50" height="50"/><circle cx="27" cy="6" r="2"/><circle cx="27" cy="19" r="2"/><circle cx="27" cy="44" r="2"/><text class="ol e" x="22" y="9">O<tspan class="s" dy="1.5">1</tspan></text><text class="ol e" x="22" y="22">O<tspan class="s" dy="1.5">2</tspan></text><text class="ol e" x="22" y="47">O<tspan class="s" dy="1.5">3</tspan></text></g>
<text class="cap" x="638" y="1280">(f)</text>
</svg>
